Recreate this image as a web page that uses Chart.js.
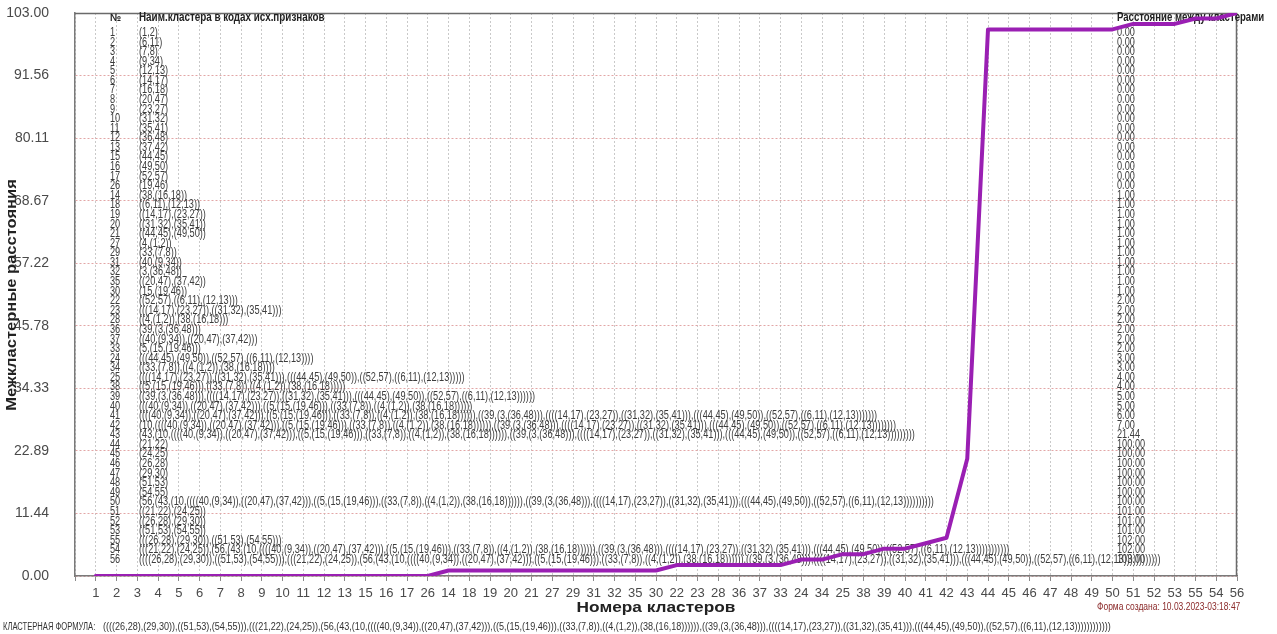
<!DOCTYPE html>
<html>
<head>
<meta charset="utf-8">
<script src="https://cdn.jsdelivr.net/npm/chart.js@4.4.1/dist/chart.umd.min.js"></script>
<style>
  html, body { margin: 0; padding: 0; background: #ffffff; }
  #wrap { width: 1277px; height: 634px; position: relative; }
</style>
</head>
<body>
<div id="wrap"><canvas id="c" width="1277" height="634"></canvas></div>
<script>
// Cluster numbers in the order they appear along the x axis (and in the table)
const clusterOrder = [1,2,3,4,5,6,7,8,9,10,11,12,13,15,16,17,26,14,18,19,20,21,27,29,31,32,35,30,22,23,28,36,37,33,24,34,25,38,39,40,41,42,43,44,45,46,47,48,49,50,51,52,53,55,54,56];

// Inter-cluster distance for each cluster in clusterOrder
const distances = [0,0,0,0,0,0,0,0,0,0,0,0,0,0,0,0,0,
                   1,1,1,1,1,1,1,1,1,1,1,
                   2,2,2,2,2,2,
                   3,3,4,4,5,5,6,7,21.44,
                   100,100,100,100,100,100,100,
                   101,101,101,102,102,103];

// Y axis tick labels
const yTickLabels = ['0.00','11.44','22.89','34.33','45.78','57.22','68.67','80.11','91.56','103.00'];

// Cluster composition: [cluster, left part, right part]; '#n' refers to cluster n, plain numbers are feature codes
const clusterParts = [
  [1,'1','2'],[2,'6','11'],[3,'7','8'],[4,'9','34'],[5,'12','13'],[6,'14','17'],[7,'16','18'],
  [8,'20','47'],[9,'23','27'],[10,'31','32'],[11,'35','41'],[12,'36','48'],[13,'37','42'],
  [15,'44','45'],[16,'49','50'],[17,'52','57'],[26,'19','46'],
  [14,'38','#7'],[18,'#2','#5'],[19,'#6','#9'],[20,'#10','#11'],[21,'#15','#16'],[27,'4','#1'],
  [29,'33','#3'],[31,'40','#4'],[32,'3','#12'],[35,'#8','#13'],[30,'15','#26'],
  [22,'#17','#18'],[23,'#19','#20'],[28,'#27','#14'],[36,'39','#32'],[37,'#31','#35'],[33,'5','#30'],
  [24,'#21','#22'],[34,'#29','#28'],[25,'#23','#24'],[38,'#33','#34'],[39,'#36','#25'],
  [40,'#37','#38'],[41,'#40','#39'],[42,'10','#41'],[43,'43','#42'],
  [44,'21','22'],[45,'24','25'],[46,'26','28'],[47,'29','30'],[48,'51','53'],[49,'54','55'],
  [50,'56','#43'],[51,'#44','#45'],[52,'#46','#47'],[53,'#48','#49'],[55,'#52','#53'],
  [54,'#51','#50'],[56,'#55','#54']
];

const partMap = {};
clusterParts.forEach(p => { partMap[p[0]] = [p[1], p[2]]; });
const nameCache = {};
function partName(token) {
  return token.charAt(0) === '#' ? clusterName(parseInt(token.slice(1), 10)) : token;
}
function clusterName(n) {
  if (!nameCache[n]) {
    const p = partMap[n];
    nameCache[n] = '(' + partName(p[0]) + ',' + partName(p[1]) + ')';
  }
  return nameCache[n];
}

const FONT = '"Liberation Sans", Arial, sans-serif';
const PLOT = { left: 75, right: 1237, top: 13, bottom: 576 };

function condensedText(ctx, text, x, y, font, color, sx, align) {
  ctx.save();
  ctx.font = font;
  ctx.fillStyle = color;
  ctx.textBaseline = 'middle';
  ctx.textAlign = align || 'left';
  ctx.translate(x, y);
  ctx.scale(sx, 1);
  ctx.fillText(text, 0, 0);
  ctx.restore();
}

// Table of clusters, frame and captions
const tablePlugin = {
  id: 'clusterTable',
  beforeDatasetsDraw(chart) {
    const ctx = chart.ctx;
    const a = chart.chartArea;
    // dark frame on top and right
    ctx.save();
    ctx.strokeStyle = '#6a6a6a';
    ctx.lineWidth = 1.5;
    ctx.beginPath();
    ctx.moveTo(a.left, a.top + 0.5);
    ctx.lineTo(a.right - 0.5, a.top + 0.5);
    ctx.lineTo(a.right - 0.5, a.bottom);
    ctx.stroke();
    ctx.restore();

    const rowY0 = 32.5, rowH = 9.58, sx = 0.735;
    const rowFont = '12.5px ' + FONT;
    condensedText(ctx, '№', 110, 18, 'bold 11px ' + FONT, '#222', 0.9);
    condensedText(ctx, 'Наим.кластера в кодах исх.признаков', 139, 18, 'bold 12px ' + FONT, '#222', 0.82);
    condensedText(ctx, 'Расстояние между кластерами', 1117, 18, 'bold 12px ' + FONT, '#222', 0.8);
    clusterOrder.forEach((c, i) => {
      const y = rowY0 + i * rowH;
      condensedText(ctx, String(c), 110, y, rowFont, '#3c3c3c', sx);
      condensedText(ctx, clusterName(c), 139, y, rowFont, '#3c3c3c', sx);
      condensedText(ctx, distances[i].toFixed(2), 1117, y, rowFont, '#3c3c3c', sx);
    });
  },
  afterDraw(chart) {
    const ctx = chart.ctx;
    // axis titles
    condensedText(ctx, 'Номера кластеров', 656, 608, 'bold 15px ' + FONT, '#222', 1.15, 'center');
    ctx.save();
    ctx.translate(12, 295);
    ctx.rotate(-Math.PI / 2);
    condensedText(ctx, 'Межкластерные расстояния', 0, 0, 'bold 15px ' + FONT, '#222', 1.1, 'center');
    ctx.restore();
    condensedText(ctx, 'Форма создана: 10.03.2023-03:18:47', 1097, 607, '11px ' + FONT, '#8b2a2a', 0.77);
    condensedText(ctx, 'КЛАСТЕРНАЯ ФОРМУЛА:', 3, 627, '10px ' + FONT, '#333', 0.76);
    condensedText(ctx, clusterName(56), 103, 627, '11px ' + FONT, '#333', 0.824);
  }
};

new Chart(document.getElementById('c'), {
  type: 'line',
  data: {
    datasets: [{
      data: clusterOrder.map((c, i) => ({ x: i + 1, y: distances[i] })),
      borderColor: '#9a1fb3',
      borderWidth: 4,
      pointRadius: 0,
      tension: 0,
      fill: false,
      borderJoinStyle: 'round',
      borderCapStyle: 'round'
    }]
  },
  options: {
    responsive: false,
    animation: false,
    devicePixelRatio: 1,
    layout: { padding: { left: 0, right: 1277 - PLOT.right, top: PLOT.top, bottom: 0 } },
    plugins: { legend: { display: false }, tooltip: { enabled: false } },
    scales: {
      x: {
        type: 'linear',
        min: 0,
        max: 56,
        afterFit(s) {
          s.height = 634 - PLOT.bottom;
          s.paddingLeft = 0; s.paddingRight = 0; s.paddingTop = 0; s.paddingBottom = 0;
        },
        afterBuildTicks(s) {
          s.ticks = [];
          for (let i = 0; i <= clusterOrder.length; i++) s.ticks.push({ value: i });
        },
        ticks: {
          autoSkip: false,
          maxRotation: 0,
          padding: 5,
          color: '#4a4a4a',
          font: { family: FONT, size: 13 },
          callback: (v) => (v >= 1 ? String(clusterOrder[v - 1]) : '')
        },
        grid: { color: '#c9c9c9', lineWidth: 1, tickLength: 5, tickColor: '#8a8a8a' },
        border: { display: true, color: '#7a7a7a', width: 1.5, dash: [2, 2] }
      },
      y: {
        min: 0,
        max: 103,
        afterFit(s) {
          s.width = PLOT.left;
          s.paddingLeft = 0; s.paddingRight = 0; s.paddingTop = 0; s.paddingBottom = 0;
        },
        afterBuildTicks(s) { s.ticks = yTickLabels.map(l => ({ value: parseFloat(l) })); },
        ticks: {
          padding: 26,
          color: '#4a4a4a',
          font: { family: FONT, size: 14 },
          callback: (v, i) => yTickLabels[i]
        },
        grid: { color: '#e2a6a6', lineWidth: 1, drawTicks: false },
        border: { display: true, color: '#7a7a7a', width: 1.5, dash: [2, 2] }
      }
    }
  },
  plugins: [tablePlugin]
});
</script>
</body>
</html>
